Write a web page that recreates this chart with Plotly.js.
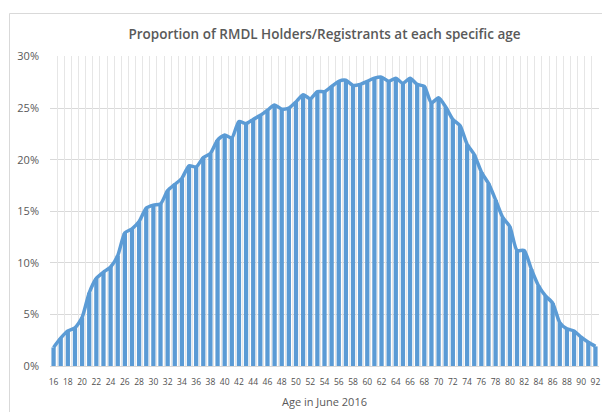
<!DOCTYPE html>
<html>
<head>
<meta charset="utf-8">
<script src="https://cdn.plot.ly/plotly-3.0.1.min.js"></script>
<style>
  html, body { margin: 0; padding: 0; background: #fff; }
  #chart { width: 602px; height: 412px; }
</style>
</head>
<body>
<div id="chart"></div>
<script>
// Ages (category axis)
const ages = [16,17,18,19,20,21,22,23,24,25,26,27,28,29,30,31,32,33,34,35,36,37,38,39,40,
  41,42,43,44,45,46,47,48,49,50,51,52,53,54,55,56,57,58,59,60,61,62,63,64,65,66,67,68,69,70,
  71,72,73,74,75,76,77,78,79,80,81,82,83,84,85,86,87,88,89,90,91,92];

// Proportion of RMDL holders/registrants at each age
const proportion = [0.018,0.027,0.034,0.037,0.047,0.071,0.085,0.091,0.096,0.107,0.129,0.133,0.140,0.153,0.156,0.157,0.170,0.176,0.182,0.194,
  0.193,0.202,0.206,0.219,0.224,0.221,0.237,0.235,0.239,0.243,0.248,0.253,0.249,0.250,0.256,0.263,0.259,0.266,0.266,0.271,
  0.276,0.277,0.272,0.273,0.276,0.279,0.280,0.276,0.279,0.274,0.279,0.273,0.271,0.255,0.260,0.251,0.239,0.233,0.215,0.205,
  0.188,0.177,0.161,0.144,0.135,0.112,0.112,0.094,0.078,0.068,0.061,0.042,0.036,0.034,0.028,0.023,0.019];

const titleText = 'Proportion of RMDL Holders/Registrants at each specific age';
const xTitle = 'Age in June 2016';

const W = 602, H = 412;
const M = {l: 50, r: 3, t: 56, b: 46};
const pw = W - M.l - M.r, ph = H - M.t - M.b;
const px = v => (v - M.l) / pw;
const py = v => (H - M.b - v) / ph;

const blue = '#5B9BD5';
const txt = '#595959';

const traces = [
  {
    type: 'bar', x: ages, y: proportion, width: 0.6,
    marker: {color: blue, line: {width: 0}},
    hoverinfo: 'skip', showlegend: false
  },
  {
    type: 'scatter', mode: 'lines', x: ages, y: proportion,
    line: {color: blue, width: 3.5, shape: 'spline', smoothing: 0.6},
    hoverinfo: 'skip', showlegend: false
  }
];

const layout = {
  width: W, height: H,
  margin: M,
  paper_bgcolor: '#fff', plot_bgcolor: '#fff',
  font: {family: 'Open Sans, sans-serif', color: txt},
  title: {
    text: titleText,
    font: {family: 'Open Sans, sans-serif', size: 13.5, color: txt, weight: 600},
    x: 0.5, xref: 'paper', xanchor: 'center',
    y: 1 - 34 / H, yref: 'container', yanchor: 'middle'
  },
  xaxis: {
    range: [15.5, 92.5],
    tickmode: 'linear', tick0: 16, dtick: 2,
    showgrid: false, zeroline: false, showline: false, ticks: '',
    tickfont: {size: 8.5, color: '#505050'},
    ticklabelstandoff: 9,
    title: {text: xTitle, font: {size: 11, color: txt}, standoff: 12}
  },
  xaxis2: {
    overlaying: 'x', range: [15.5, 92.5],
    tickmode: 'linear', tick0: 15.5, dtick: 1,
    showgrid: true, gridcolor: '#E6E6E6', gridwidth: 1,
    showticklabels: false, ticks: '', zeroline: false, showline: false
  },
  yaxis: {
    range: [0, 0.3005],
    tickmode: 'linear', tick0: 0, dtick: 0.05, tickformat: '.0%',
    showgrid: true, gridcolor: '#D9D9D9', gridwidth: 1,
    zeroline: true, zerolinecolor: '#D9D9D9', zerolinewidth: 1,
    showline: false, ticks: '',
    tickfont: {size: 11, color: txt},
    ticklabelstandoff: 10
  },
  shapes: [{
    type: 'rect', xref: 'paper', yref: 'paper',
    x0: px(9.5), x1: px(620), y0: py(440), y1: py(13.5),
    line: {color: '#D9D9D9', width: 1}, fillcolor: 'rgba(0,0,0,0)', layer: 'above'
  }]
};

// invisible trace to activate the overlay axis carrying the vertical gridlines
traces.push({type: 'scatter', x: [ages[0]], y: [proportion[0]], xaxis: 'x2', mode: 'markers',
  marker: {opacity: 0}, hoverinfo: 'skip', showlegend: false});

Plotly.newPlot('chart', traces, layout, {staticPlot: true, displayModeBar: false});
</script>
</body>
</html>
